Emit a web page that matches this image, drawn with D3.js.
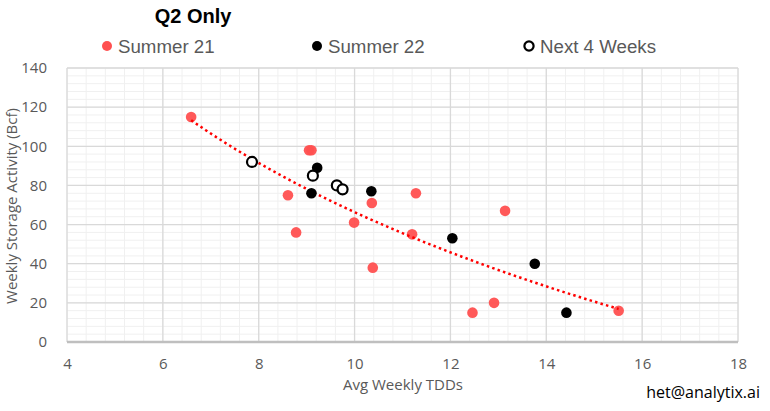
<!DOCTYPE html>
<html>
<head>
<meta charset="utf-8">
<script src="https://cdn.jsdelivr.net/npm/d3@7"></script>
<style>
  body { margin: 0; background: #fff; }
  .tick-label { font-family: "Open Sans", sans-serif; font-size: 15px; fill: #595959; }
  .legend-text { font-family: "Liberation Sans", Arial, sans-serif; font-size: 18.7px; fill: #595959; }
</style>
</head>
<body>
<div id="chart"></div>
<script>
// Summer 21
const summer21X = [6.59, 9.05, 9.1, 8.61, 8.78, 9.99, 10.36, 10.38, 11.28, 11.2, 13.14, 12.46, 12.91, 15.51];
const summer21Y = [115, 98, 98, 75, 56, 61, 71, 38, 76, 55, 67, 15, 20, 16];
// Summer 22
const summer22X = [9.22, 9.1, 10.35, 12.04, 13.76, 14.42];
const summer22Y = [89, 76, 77, 53, 40, 15];
// Next 4 Weeks
const next4X = [7.86, 9.13, 9.63, 9.75];
const next4Y = [92, 85, 80, 78];

const xTicks = [4, 6, 8, 10, 12, 14, 16, 18];
const yTicks = [0, 20, 40, 60, 80, 100, 120, 140];

const W = 770, H = 411;
const plot = { left: 67, right: 738, top: 68, bottom: 342 };

const svg = d3.select("#chart").append("svg")
  .attr("width", W).attr("height", H);

const x = d3.scaleLinear().domain([4, 18]).range([plot.left, plot.right]);
const y = d3.scaleLinear().domain([0, 140]).range([plot.bottom, plot.top]);

// minor grid
const xMinor = d3.range(4, 18.001, 0.4);
const yMinor = d3.range(0, 140.001, 4);
svg.append("g").selectAll("line").data(xMinor).join("line")
  .attr("x1", d => x(d)).attr("x2", d => x(d))
  .attr("y1", plot.top).attr("y2", plot.bottom)
  .attr("stroke", "#f0f0f0").attr("stroke-width", 1);
svg.append("g").selectAll("line").data(yMinor).join("line")
  .attr("y1", d => y(d)).attr("y2", d => y(d))
  .attr("x1", plot.left).attr("x2", plot.right)
  .attr("stroke", "#f0f0f0").attr("stroke-width", 1);

// major grid
svg.append("g").selectAll("line").data(xTicks).join("line")
  .attr("x1", d => x(d)).attr("x2", d => x(d))
  .attr("y1", plot.top).attr("y2", plot.bottom)
  .attr("stroke", "#d9d9d9").attr("stroke-width", 1.3);
svg.append("g").selectAll("line").data(yTicks).join("line")
  .attr("y1", d => y(d)).attr("y2", d => y(d))
  .attr("x1", plot.left).attr("x2", plot.right)
  .attr("stroke", "#d9d9d9").attr("stroke-width", 1.3);

// bottom axis line
svg.append("line")
  .attr("x1", plot.left).attr("x2", plot.right)
  .attr("y1", plot.bottom).attr("y2", plot.bottom)
  .attr("stroke", "#bfbfbf").attr("stroke-width", 2.5);

// axes (labels only)
const xAxis = svg.append("g")
  .attr("transform", `translate(0,${plot.bottom})`)
  .call(d3.axisBottom(x).tickValues(xTicks).tickSize(0).tickPadding(16));
const yAxis = svg.append("g")
  .attr("transform", `translate(${plot.left},0)`)
  .call(d3.axisLeft(y).tickValues(yTicks).tickSize(0).tickPadding(20));
[xAxis, yAxis].forEach(g => {
  g.select(".domain").remove();
  g.selectAll("text").attr("class", "tick-label").attr("fill", null);
});
xAxis.selectAll("text").attr("dy", "0.71em");

// axis titles
svg.append("text")
  .attr("class", "tick-label")
  .attr("x", 403).attr("y", 390)
  .attr("text-anchor", "middle")
  .text("Avg Weekly TDDs");
svg.append("text")
  .attr("class", "tick-label")
  .attr("transform", `translate(17,206) rotate(-90)`)
  .attr("text-anchor", "middle")
  .text("Weekly Storage Activity (Bcf)");

// logarithmic trendline fitted to Summer 21
const lx = summer21X.map(Math.log);
const mx = d3.mean(lx), my = d3.mean(summer21Y);
const b = d3.sum(lx, (v, i) => (v - mx) * (summer21Y[i] - my)) / d3.sum(lx, v => (v - mx) * (v - mx));
const a = my - b * mx;
const xmin = d3.min(summer21X), xmax = d3.max(summer21X);
const trendPts = d3.range(0, 61).map(i => {
  const xv = xmin + (xmax - xmin) * i / 60;
  return [xv, a + b * Math.log(xv)];
});

// points
const dot = (xs, ys) => xs.map((v, i) => ({ x: v, y: ys[i] }));
svg.append("g").selectAll("circle").data(dot(summer21X, summer21Y)).join("circle")
  .attr("cx", d => x(d.x)).attr("cy", d => y(d.y)).attr("r", 5.3)
  .attr("fill", "#ff5050").attr("fill-opacity", 0.95);

svg.append("path")
  .datum(trendPts)
  .attr("d", d3.line().x(d => x(d[0])).y(d => y(d[1])))
  .attr("fill", "none").attr("stroke", "#ff0000")
  .attr("stroke-width", 2.5).attr("stroke-dasharray", "2.5,3.2");

svg.append("g").selectAll("circle").data(dot(summer22X, summer22Y)).join("circle")
  .attr("cx", d => x(d.x)).attr("cy", d => y(d.y)).attr("r", 5.3)
  .attr("fill", "#000");
svg.append("g").selectAll("circle").data(dot(next4X, next4Y)).join("circle")
  .attr("cx", d => x(d.x)).attr("cy", d => y(d.y)).attr("r", 5)
  .attr("fill", "#fff").attr("stroke", "#000").attr("stroke-width", 2.2);

// title
svg.append("text")
  .attr("x", 193).attr("y", 23)
  .attr("text-anchor", "middle")
  .style("font-family", "'Liberation Sans', Arial, sans-serif")
  .style("font-size", "20px").style("font-weight", "bold")
  .text("Q2 Only");

// legend
const legendItems = [
  { label: "Summer 21", x: 107, fill: "#ff5050", stroke: "none" },
  { label: "Summer 22", x: 317, fill: "#000", stroke: "none" },
  { label: "Next 4 Weeks", x: 529, fill: "#fff", stroke: "#000" }
];
const lg = svg.append("g").selectAll("g").data(legendItems).join("g")
  .attr("transform", d => `translate(${d.x},46)`);
lg.append("circle").attr("r", d => d.stroke === "none" ? 5 : 4.6)
  .attr("fill", d => d.fill).attr("stroke", d => d.stroke).attr("stroke-width", 2.2);
lg.append("text").attr("class", "legend-text")
  .attr("x", 11).attr("y", 7).text(d => d.label);

// footer
svg.append("text")
  .attr("x", 760).attr("y", 398)
  .attr("text-anchor", "end")
  .style("font-family", "'Open Sans', sans-serif")
  .style("font-size", "16px").attr("fill", "#000")
  .text("het@analytix.ai");
</script>
</body>
</html>
